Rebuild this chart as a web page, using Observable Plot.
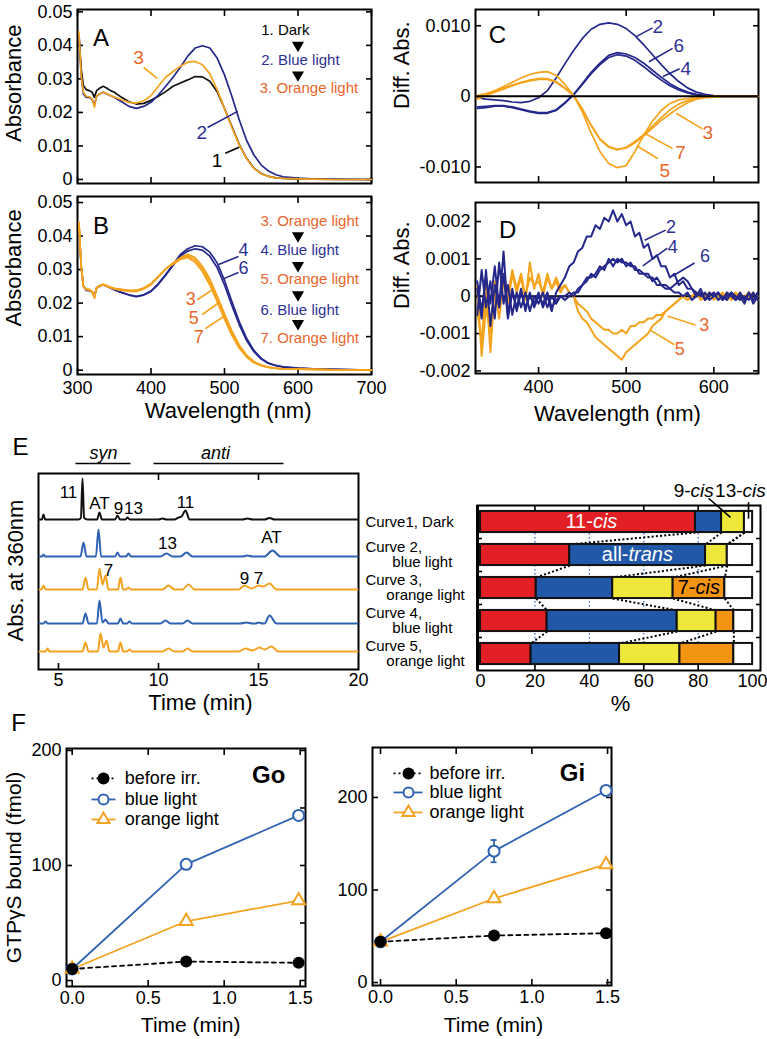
<!DOCTYPE html>
<html><head><meta charset="utf-8">
<script src="https://cdn.jsdelivr.net/npm/d3@7"></script>
<script src="https://cdn.jsdelivr.net/npm/@observablehq/plot@0.6"></script>
<style>
html,body{margin:0;padding:0;background:#fff;}
#fig{position:relative;width:767px;height:1039px;overflow:hidden;background:#fff;}
</style></head>
<body><div id="fig"></div>
<script>
// ================= DATA =================
// Panels A/B: absorbance spectra
const wavelengthsAB = [302,305,308,312,316,320,323,326,330,335,340,345,350,360,370,380,390,400,410,420,430,440,450,460,470,480,490,500,510,520,530,540,550,560,570,580,600,620,650,700];
const absDark = [0.043,0.033,0.028,0.0268,0.0265,0.026,0.0245,0.0265,0.0272,0.0278,0.0272,0.0265,0.026,0.0245,0.0232,0.0225,0.0227,0.0236,0.0248,0.0262,0.0278,0.0288,0.0297,0.0307,0.0306,0.0293,0.0262,0.0212,0.0158,0.0105,0.0063,0.0034,0.0018,0.0009,0.0005,0.0003,0.0001,0.0001,0,0];
const absBlue2 = [0.043,0.031,0.0255,0.0245,0.0245,0.0238,0.0222,0.0248,0.0255,0.026,0.0255,0.025,0.0245,0.0232,0.0218,0.0212,0.0218,0.023,0.0252,0.0278,0.0305,0.0335,0.0368,0.0392,0.0399,0.0392,0.0362,0.0312,0.0248,0.0178,0.0117,0.0073,0.0043,0.0025,0.0014,0.0008,0.0004,0.0002,0.0001,0];
const absOrange3 = [0.044,0.031,0.026,0.0248,0.0247,0.024,0.0215,0.025,0.0255,0.026,0.0256,0.025,0.0246,0.0238,0.023,0.0228,0.0235,0.025,0.0278,0.0305,0.0322,0.0338,0.035,0.0352,0.0342,0.0315,0.0268,0.0212,0.0155,0.0103,0.0062,0.0033,0.0017,0.0009,0.0005,0.0003,0.0002,0.0001,0,0];
const absB4 = [0.043,0.031,0.025,0.0238,0.0238,0.0232,0.0222,0.0245,0.025,0.0255,0.025,0.0245,0.024,0.0232,0.0225,0.022,0.0225,0.0236,0.0258,0.0285,0.0315,0.0345,0.0362,0.0371,0.0368,0.0352,0.032,0.0268,0.0205,0.0145,0.0095,0.0059,0.0035,0.0021,0.0014,0.001,0.0006,0.0004,0.0002,0];
const absB6 = [0.043,0.031,0.025,0.0238,0.0238,0.0232,0.0222,0.0245,0.025,0.0255,0.025,0.0245,0.024,0.0231,0.0224,0.0219,0.0224,0.0235,0.0256,0.0283,0.0312,0.034,0.0355,0.0362,0.0358,0.034,0.0306,0.0254,0.0193,0.0136,0.0089,0.0055,0.0033,0.002,0.0013,0.0009,0.0006,0.0004,0.0002,0];
const absB3 = [0.044,0.031,0.025,0.024,0.024,0.0233,0.0215,0.0245,0.025,0.0255,0.025,0.0246,0.0242,0.0238,0.0235,0.0235,0.0242,0.0255,0.0278,0.0302,0.032,0.0335,0.0346,0.0336,0.031,0.0272,0.0222,0.0168,0.0117,0.0075,0.0045,0.0026,0.0015,0.0009,0.0006,0.0004,0.0003,0.0002,0.0001,0];
const absB5 = [0.044,0.031,0.025,0.0241,0.024,0.0234,0.0216,0.0246,0.0251,0.0256,0.0251,0.0247,0.0243,0.024,0.0237,0.0237,0.0244,0.0257,0.0279,0.0302,0.0318,0.0333,0.0341,0.0329,0.0302,0.0263,0.0213,0.016,0.011,0.007,0.0042,0.0024,0.0014,0.0008,0.0005,0.0004,0.0003,0.0002,0.0001,0];
const absB7 = [0.044,0.031,0.025,0.0242,0.0241,0.0235,0.0217,0.0247,0.0252,0.0256,0.0252,0.0248,0.0244,0.0241,0.0238,0.0238,0.0245,0.0258,0.028,0.0302,0.0316,0.033,0.0336,0.0322,0.0294,0.0254,0.0204,0.0152,0.0104,0.0066,0.0039,0.0022,0.0013,0.0008,0.0005,0.0004,0.0003,0.0002,0.0001,0];
const legendA = ["1. Dark","2. Blue light","3. Orange light"];
const legendB = ["3. Orange light","4. Blue light","5. Orange light","6. Blue light","7. Orange light"];

// Panel C: difference spectra
const wavelengthsC = [330,340,350,360,370,380,390,400,410,420,430,440,450,460,470,480,490,500,510,520,530,540,550,560,570,580,590,600,610,620,630,640,650];
const diffC2 = [-0.0002,-0.0004,-0.0005,-0.0006,-0.0008,-0.0009,-0.0007,-0.0002,0.0008,0.0026,0.0046,0.0065,0.0082,0.0095,0.0102,0.0104,0.0102,0.0096,0.0086,0.0073,0.0059,0.0045,0.0032,0.0021,0.0012,0.0006,0.0003,0.0001,0,0,0,0,0];
const diffC4 = [-0.0017,-0.0016,-0.0014,-0.0014,-0.0016,-0.0019,-0.0022,-0.0024,-0.0024,-0.002,-0.001,0.0002,0.0017,0.0032,0.0045,0.0055,0.0059,0.0057,0.0051,0.0042,0.0032,0.0023,0.0015,0.0009,0.0005,0.0002,0.0001,0,0,0,0,0,0];
const diffC6 = [-0.0015,-0.0014,-0.0013,-0.0013,-0.0015,-0.0018,-0.0021,-0.0023,-0.0023,-0.0019,-0.0009,0.0003,0.0018,0.0034,0.0047,0.0058,0.0062,0.006,0.0055,0.0047,0.0037,0.0027,0.0018,0.0011,0.0006,0.0003,0.0001,0,0,0,0,0,0];
const diffC3 = [0.0001,0.0004,0.0008,0.0012,0.0016,0.002,0.0023,0.0025,0.0025,0.0021,0.0012,0.0001,-0.0018,-0.0041,-0.006,-0.0071,-0.0075,-0.0073,-0.0066,-0.0056,-0.0045,-0.0034,-0.0025,-0.0016,-0.0009,-0.0004,-0.0002,-0.0001,0,0,0,0,0];
const diffC5 = [-0.0004,0.0002,0.0008,0.0014,0.002,0.0026,0.0031,0.0034,0.0035,0.003,0.0017,0.0001,-0.0022,-0.0052,-0.0078,-0.0095,-0.0101,-0.0098,-0.0078,-0.0055,-0.0035,-0.002,-0.001,-0.0005,-0.0003,-0.0001,0,0,0,0,0,0,0];
const diffC7 = [-0.0003,0.0001,0.0006,0.001,0.0015,0.0019,0.0022,0.0024,0.0024,0.002,0.0011,0.0001,-0.0018,-0.0041,-0.0061,-0.0072,-0.0076,-0.0072,-0.0064,-0.0054,-0.0042,-0.003,-0.0019,-0.0011,-0.0006,-0.0003,-0.0001,0,0,0,0,0,0];

// Panel D: difference spectra (noisy), 330-650 nm every 5 nm
const wavelengthsD = [330,335,340,345,350,355,360,365,370,375,380,385,390,395,400,405,410,415,420,425,430,435,440,445,450,455,460,465,470,475,480,485,490,495,500,505,510,515,520,525,530,535,540,545,550,555,560,565,570,575,580,585,590,595,600,605,610,615,620,625,630,635,640,645,650];
const diffD2 = [0.0002,-0.0006,0.0007,-0.0008,0.0003,-0.0003,0.0012,-0.0005,0.0002,-0.0004, 0.0001,-0.0003,0,-0.0002,0.0001,-0.0003,0,-0.0004,0.0001,0.0003, 0.0005,0.0008,0.0009,0.0012,0.0013,0.0016,0.0016,0.0019,0.0018,0.0021, 0.0020,0.0023,0.0020,0.0022,0.0019,0.0020,0.0016,0.0017,0.0013,0.0014, 0.0010,0.0011,0.0008,0.0008,0.0005,0.0006,0.0003,0.0004,0.0002,0.0002, 0,0.0002,-0.0001,0.0001,0,0.0001,-0.0001,0.0001,0,-0.0001, 0.0001,-0.0001,0.0001,-0.0002,0];
const diffD4 = [-0.0005,0.0007,-0.0003,0.0004,-0.0006,0.0009,-0.0002,0.0003,-0.0005,0.0001, -0.0003,0.0001,-0.0004,0,-0.0002,0.0001,-0.0003,0,-0.0002,0, -0.0001,0,0.0001,0.0001,0.0003,0.0005,0.0005,0.0006,0.0008,0.0007, 0.0010,0.0008,0.0010,0.0009,0.0009,0.0008,0.0008,0.0006,0.0006,0.0005, 0.0005,0.0003,0.0003,0.0002,0.0002,0.0001,0.0001,0,0.0001,-0.0001, 0,0.0001,-0.0001,0,0.0001,-0.0001,0,-0.0001,0.0001,-0.0001, 0,-0.0002,0.0001,-0.0001,0.0001];
const diffD6 = [0.0004,-0.0004,0.0005,-0.0002,0.0008,-0.0003,0.0006,-0.0006,0.0001,-0.0003, 0.0002,-0.0004,0.0001,-0.0003,0,-0.0002,0.0001,-0.0003,-0.0001,0, 0,0.0001,0,0.0002,0.0003,0.0004,0.0006,0.0005,0.0007,0.0008, 0.0009,0.0010,0.0009,0.0010,0.0008,0.0009,0.0007,0.0007,0.0006,0.0006, 0.0004,0.0005,0.0003,0.0003,0.0002,0.0003,0.0004,0.0005,0.0004,0.0002, 0.0001,0,0.0001,-0.0001,0,0.0001,-0.0001,0,0.0001,0, -0.0001,0,-0.0001,0.0001,-0.0001];
const diffD3 = [-0.0004,-0.0012,0.0003,-0.0015,0.0002,-0.0006,0.0004,-0.0002,0.0006,0.0001, 0.0005,-0.0001,0.0009,0.0002,0.0006,0,0.0005,0.0002,0.0004,0.0001, 0.0003,0.0001,0,-0.0002,-0.0003,-0.0004,-0.0006,-0.0007,-0.0008,-0.0009, -0.0009,-0.0010,-0.0010,-0.0009,-0.0010,-0.0008,-0.0008,-0.0007,-0.0007,-0.0006, -0.0006,-0.0005,-0.0005,-0.0004,-0.0003,-0.0002,-0.0001,0,-0.0001,0, 0.0001,-0.0001,0,0.0001,-0.0001,0,0.0001,-0.0001,0,0.0001, -0.0001,0,0.0001,-0.0001,0];
const diffD5 = [0.0003,-0.0016,-0.0003,-0.0010,0.0004,-0.0003,0.0006,0,0.0007,0.0002, 0.0006,0,0.0005,0.0003,0.0004,0.0001,0.0006,0.0002,0.0005,0.0002, 0.0003,0.0001,0,-0.0004,-0.0006,-0.0007,-0.0009,-0.0011,-0.0012,-0.0013, -0.0014,-0.0015,-0.0016,-0.0017,-0.0015,-0.0014,-0.0013,-0.0012,-0.0011,-0.0010, -0.0008,-0.0007,-0.0006,-0.0004,-0.0003,-0.0002,-0.0001,0,-0.0001,0, 0.0001,0,-0.0001,0,0.0001,-0.0001,0,0.0001,-0.0001,0, 0.0001,-0.0001,0,0.0001,-0.0001];

// Panel E: HPLC chromatograms [time (min), absorbance above trace baseline]
const traceDark = [[4.05,0],[4.17,0],[4.25,5],[4.33,0],[6.0,0],[6.12,1.5],[6.2,41],[6.28,1.5],[6.45,0],[6.93,0],[7.05,7],[7.17,0],[7.83,0],[7.95,4],[8.07,0],[8.35,0],[8.45,2],[8.56,0],[10.0,0],[10.2,1],[10.4,0],[10.8,0],[11.0,2],[11.15,3],[11.35,9],[11.55,0],[14.2,0],[14.45,1],[14.7,0],[15.3,0],[15.55,1.5],[15.8,0],[19.95,0]];
const traceBlue2 = [[4.05,0],[4.17,0],[4.25,2],[4.33,0],[6.1,0],[6.25,14],[6.4,0],[6.87,0],[7.0,27],[7.13,0],[7.83,0],[7.95,4],[8.07,0],[8.38,0],[8.5,3],[8.62,0],[10.1,0],[10.4,3],[10.7,0],[11.1,0],[11.4,4],[11.7,0],[14.2,0],[14.45,1],[14.7,0],[15.3,0],[15.7,6],[16.1,0],[19.95,0]];
const traceOrange3 = [[4.05,0],[4.15,0],[4.25,4],[4.35,0],[6.2,0],[6.35,12],[6.5,0],[6.92,0],[7.05,21],[7.2,5],[7.35,14],[7.5,0],[7.97,0],[8.1,12],[8.23,0],[8.38,0],[8.5,2],[8.62,0],[10.2,0],[10.5,4],[10.8,0],[11.2,0],[11.5,5],[11.8,0],[14.0,0],[14.3,4],[14.65,1],[15.0,4],[15.25,3],[15.55,6],[15.9,0],[19.95,0]];
const traceBlue4 = [[4.05,0],[4.25,0],[4.35,2],[4.45,0],[6.2,0],[6.35,10],[6.5,0],[6.92,0],[7.05,23],[7.2,1],[7.35,4],[7.5,0],[7.97,0],[8.1,5],[8.23,0],[8.43,0],[8.55,2],[8.67,0],[10.1,0],[10.35,3],[10.6,0],[11.2,0],[11.45,3],[11.7,0],[14.1,0],[14.4,1],[14.7,0],[14.85,0],[15.0,1],[15.2,0],[15.3,0],[15.55,8],[15.9,0],[19.95,0]];
const traceOrange5 = [[4.05,0],[4.35,0],[4.45,3],[4.55,0],[6.2,0],[6.35,9],[6.5,0],[6.97,0],[7.1,18],[7.25,4],[7.4,11],[7.55,0],[7.97,0],[8.1,9],[8.23,0],[8.43,0],[8.55,2],[8.67,0],[10.2,0],[10.5,3],[10.8,0],[11.2,0],[11.45,3],[11.7,0],[14.0,0],[14.35,3],[14.7,1],[15.05,4],[15.3,2],[15.65,5],[16.0,0],[19.95,0]];
const curveNames = ["Curve1, Dark","Curve 2,","Curve 3,","Curve 4,","Curve 5,"];
const curveNames2 = ["","blue light","orange light","blue light","orange light"];
// Panel E right: isomer composition (%)
const isomerNames = ["11-cis","all-trans","9-cis","7-cis","13-cis"];
const pct11cis   = [79.0, 32.8, 20.5, 24.5, 18.6];
const pctAllTrans= [9.6, 49.9, 28.1, 47.8, 32.5];
const pct9cis    = [8.4, 8.0, 22.2, 14.3, 22.2];
const pct7cis    = [0, 0, 19.0, 6.5, 19.8];
const pct13cis   = [3.0, 9.3, 10.2, 6.9, 6.9];

// Panel F: GTPgammaS binding
const fTimes = [0, 0.75, 1.49];
const goBefore = [10, 16.5, 15.4];
const goBlue = [10, 101, 143.5];
const goOrange = [10, 51.5, 69.5];
const goBlueErr = [0, 1.5, 3];
const giBefore = [44, 50.8, 53.3];
const giBlue = [44, 142, 207.6];
const giOrange = [44, 90.8, 127.6];
const giBlueErr = [0, 12, 4];
const legendF = ["before irr.","blue light","orange light"];

// ================= HELPERS =================
const FONT = "'Liberation Sans', Arial, Helvetica, sans-serif";
const NAVY = "#25288b", AMBER = "#f5a31c", TXT_ORANGE = "#e8652c", TXT_NAVY = "#2e3195";
const C_BLUE = "#2f62b2", C_ORANGE = "#f4a222";
const fig = document.getElementById("fig");
function place(svg, left, top) {
  svg.style.position = "absolute"; svg.style.left = left + "px"; svg.style.top = top + "px";
  fig.appendChild(svg);
}
const styleOf = fs => ({background: "transparent", overflow: "visible", fontFamily: FONT, fontSize: fs + "px", color: "#000"});
const ann = (t, x, y, o = {}) => Plot.text([{t, x, y}], {x: "x", y: "y", text: "t", ...o});
const seg = (x1, y1, x2, y2, o = {}) => Plot.link([{x1, y1, x2, y2}], {x1: "x1", y1: "y1", x2: "x2", y2: "y2", ...o});
const pairs = (xs, ys) => xs.map((x, i) => ({x, y: ys[i]}));
const line = (xs, ys, stroke, o = {}) => Plot.line(pairs(xs, ys), {x: "x", y: "y", stroke, strokeWidth: 1.7, ...o});

function box({xt = [], xtTop = xt, yt = [], ytRight = yt, xl, yl, xfmt, yfmt, tick = 6, xpad = 8, ypad = 5, sw = 2}) {
  const m = [];
  const tk = {fill: "none", strokeWidth: 1.6, label: null};
  if (xt.length) m.push(Plot.axisX({ticks: xt, anchor: "bottom", tickSize: -tick, ...tk}));
  if (xtTop.length) m.push(Plot.axisX({ticks: xtTop, anchor: "top", tickSize: -tick, ...tk}));
  if (yt.length) m.push(Plot.axisY({ticks: yt, anchor: "left", tickSize: -tick, ...tk}));
  if (ytRight.length) m.push(Plot.axisY({ticks: ytRight, anchor: "right", tickSize: -tick, ...tk}));
  if (xl) m.push(Plot.axisX({ticks: xl, anchor: "bottom", tickSize: 0, tickPadding: xpad, tickFormat: xfmt, label: null}));
  if (yl) m.push(Plot.axisY({ticks: yl, anchor: "left", tickSize: 0, tickPadding: ypad, tickFormat: yfmt, label: null}));
  m.push(Plot.frame({strokeWidth: sw}));
  return m;
}
const fmtAbs = d => d === 0 ? "0" : d.toFixed(2);
const fmtDiff = d => d === 0 ? "0" : d.toFixed(3);
const wlTicks = [300, 400, 500, 600, 700];
const absTicks = [0, 0.01, 0.02, 0.03, 0.04, 0.05];
const tri = (pts) => Plot.dot(pts, {x: "x", y: "y", symbol: "triangle", rotate: 180, fill: "#000", r: 4.5});

// ================= PANEL A =================
place(Plot.plot({
  width: 390, height: 190, marginLeft: 77, marginRight: 19, marginTop: 9, marginBottom: 7,
  x: {domain: [300, 700], axis: null}, y: {domain: [-0.0012, 0.0507], axis: null},
  style: styleOf(18),
  marks: [
    ...box({xt: wlTicks, yt: absTicks, yl: absTicks, yfmt: fmtAbs}),
    line(wavelengthsAB, absDark, "#111"),
    line(wavelengthsAB, absBlue2, NAVY),
    line(wavelengthsAB, absOrange3, AMBER),
    ann("A", 332, 0.0421, {fontSize: 24}),
    ann("Absorbance", 213, 0.0287, {rotate: -90, fontSize: 22}),
    ann(legendA[0], 550, 0.0445, {textAnchor: "start", fontSize: 15, fill: "#000"}),
    ann(legendA[1], 550, 0.0355, {textAnchor: "start", fontSize: 15, fill: TXT_NAVY}),
    ann(legendA[2], 548, 0.0272, {textAnchor: "start", fontSize: 15, fill: TXT_ORANGE}),
    tri([{x: 600, y: 0.0400}, {x: 600, y: 0.0312}]),
    ann("3", 383, 0.0364, {fontSize: 19, fill: TXT_ORANGE}),
    seg(390, 0.0334, 409, 0.0301, {stroke: AMBER, strokeWidth: 1.6}),
    ann("2", 469, 0.0140, {fontSize: 19, fill: TXT_NAVY}),
    seg(477, 0.0155, 518, 0.0203, {stroke: NAVY, strokeWidth: 1.6}),
    ann("1", 490, 0.0054, {fontSize: 19, fill: "#000"}),
    seg(501, 0.0078, 520, 0.0096, {stroke: "#000", strokeWidth: 1.6})
  ]
}), 0, 0);

// ================= PANEL B =================
const legYB = [0.0443, 0.0357, 0.0270, 0.0180, 0.0094];
place(Plot.plot({
  width: 390, height: 235, marginLeft: 77, marginRight: 19, marginTop: 9, marginBottom: 48,
  x: {domain: [300, 700], axis: null}, y: {domain: [-0.0013, 0.0518], axis: null},
  style: styleOf(18),
  marks: [
    ...box({xt: wlTicks, yt: absTicks, yl: absTicks, yfmt: fmtAbs, xl: wlTicks, xpad: 7}),
    line(wavelengthsAB, absB4, NAVY),
    line(wavelengthsAB, absB6, NAVY),
    line(wavelengthsAB, absB3, AMBER),
    line(wavelengthsAB, absB5, AMBER),
    line(wavelengthsAB, absB7, AMBER),
    ann("B", 332, 0.0428, {fontSize: 24}),
    ann("Absorbance", 213, 0.0305, {rotate: -90, fontSize: 22}),
    ann("Wavelength (nm)", 505, -0.0122, {fontSize: 22}),
    ...legendB.map((t, i) => ann(t, 549, legYB[i], {textAnchor: "start", fontSize: 15, fill: i % 2 ? TXT_NAVY : TXT_ORANGE})),
    tri([{x: 600, y: 0.0401}, {x: 600, y: 0.0312}, {x: 600, y: 0.0225}, {x: 600, y: 0.0139}]),
    ann("4", 526, 0.0359, {fontSize: 18, fill: TXT_NAVY}),
    seg(519, 0.0339, 492, 0.0315, {stroke: NAVY, strokeWidth: 1.6}),
    ann("6", 526, 0.0304, {fontSize: 18, fill: TXT_NAVY}),
    seg(519, 0.0291, 499, 0.0273, {stroke: NAVY, strokeWidth: 1.6}),
    ann("3", 454, 0.0212, {fontSize: 18, fill: TXT_ORANGE}),
    seg(463, 0.0210, 484, 0.0240, {stroke: AMBER, strokeWidth: 1.6}),
    ann("5", 458, 0.0155, {fontSize: 18, fill: TXT_ORANGE}),
    seg(470, 0.0166, 492, 0.0201, {stroke: AMBER, strokeWidth: 1.6}),
    ann("7", 465, 0.0097, {fontSize: 18, fill: TXT_ORANGE}),
    seg(474, 0.0124, 499, 0.0160, {stroke: AMBER, strokeWidth: 1.6})
  ]
}), 0, 187);

// ================= PANEL C =================
const diffTicksC = [-0.01, 0, 0.01];
place(Plot.plot({
  width: 377, height: 190, marginLeft: 85, marginRight: 9, marginTop: 9, marginBottom: 8,
  x: {domain: [328, 651], axis: null}, y: {domain: [-0.0122, 0.0123], axis: null},
  style: styleOf(18),
  marks: [
    ...box({xt: [400, 500, 600], yt: diffTicksC, yl: diffTicksC, yfmt: fmtDiff}),
    line(wavelengthsC, diffC2, NAVY),
    line(wavelengthsC, diffC4, NAVY),
    line(wavelengthsC, diffC6, NAVY),
    line(wavelengthsC, diffC3, AMBER),
    line(wavelengthsC, diffC7, AMBER),
    line(wavelengthsC, diffC5, AMBER),
    Plot.ruleY([0], {stroke: "#000", strokeWidth: 2}),
    ann("C", 353, 0.0086, {fontSize: 24}),
    ann("Diff. Abs.", 244.6, 0.0044, {rotate: -90, fontSize: 22}),
    ann("2", 536, 0.0099, {fontSize: 19, fill: TXT_NAVY}),
    seg(530, 0.0097, 512, 0.0085, {stroke: NAVY, strokeWidth: 1.6}),
    ann("6", 560, 0.0072, {fontSize: 19, fill: TXT_NAVY}),
    seg(553, 0.0068, 526, 0.0049, {stroke: NAVY, strokeWidth: 1.6}),
    ann("4", 568, 0.0039, {fontSize: 19, fill: TXT_NAVY}),
    seg(561, 0.0039, 542, 0.0028, {stroke: NAVY, strokeWidth: 1.6}),
    ann("3", 593, -0.0052, {fontSize: 19, fill: TXT_ORANGE}),
    seg(587, -0.0046, 557, -0.0024, {stroke: AMBER, strokeWidth: 1.6}),
    ann("7", 562, -0.0080, {fontSize: 19, fill: TXT_ORANGE}),
    seg(553, -0.0074, 522, -0.0053, {stroke: AMBER, strokeWidth: 1.6}),
    ann("5", 544, -0.0105, {fontSize: 19, fill: TXT_ORANGE}),
    seg(536, -0.0088, 512, -0.0070, {stroke: AMBER, strokeWidth: 1.6})
  ]
}), 390, 0);

// ================= PANEL D =================
const diffTicksD = [-0.002, -0.001, 0, 0.001, 0.002];
place(Plot.plot({
  width: 377, height: 232, marginLeft: 85, marginRight: 9, marginTop: 12, marginBottom: 49,
  x: {domain: [328, 651], axis: null}, y: {domain: [-0.00207, 0.00251], axis: null},
  style: styleOf(18),
  marks: [
    ...box({xt: [400, 500, 600], yt: diffTicksD, yl: diffTicksD, yfmt: fmtDiff, xl: [400, 500, 600], xpad: 7}),
    Plot.ruleY([0], {stroke: "#000", strokeWidth: 2}),
    line(wavelengthsD, diffD3, AMBER, {strokeWidth: 2}),
    line(wavelengthsD, diffD5, AMBER, {strokeWidth: 2}),
    line(wavelengthsD, diffD2, NAVY, {strokeWidth: 2}),
    line(wavelengthsD, diffD4, NAVY, {strokeWidth: 2}),
    line(wavelengthsD, diffD6, NAVY, {strokeWidth: 2}),
    ann("D", 364.6, 0.00177, {fontSize: 24}),
    ann("Diff. Abs.", 244.6, 0.00083, {rotate: -90, fontSize: 22}),
    ann("Wavelength (nm)", 490, -0.00316, {fontSize: 22}),
    ann("2", 551, 0.00186, {fontSize: 18, fill: TXT_NAVY}),
    seg(545, 0.00177, 521, 0.0015, {stroke: NAVY, strokeWidth: 1.6}),
    ann("4", 553, 0.00130, {fontSize: 18, fill: TXT_NAVY}),
    seg(547, 0.00129, 519, 0.00081, {stroke: NAVY, strokeWidth: 1.6}),
    ann("6", 590, 0.00107, {fontSize: 18, fill: TXT_NAVY}),
    seg(578, 0.00089, 553, 0.00054, {stroke: NAVY, strokeWidth: 1.6}),
    ann("3", 589, -0.00079, {fontSize: 18, fill: TXT_ORANGE}),
    seg(579, -0.00077, 547, -0.00053, {stroke: AMBER, strokeWidth: 1.6}),
    ann("5", 561, -0.00143, {fontSize: 18, fill: TXT_ORANGE}),
    seg(555, -0.0013, 527, -0.0009, {stroke: AMBER, strokeWidth: 1.6})
  ]
}), 390, 190);

// ================= PANEL E (chromatograms) =================
const traces = [traceDark, traceBlue2, traceOrange3, traceBlue4, traceOrange5];
const traceColors = ["#111", C_BLUE, C_ORANGE, C_BLUE, C_ORANGE];
const traceOffsets = [150, 113, 80, 46, 18];
place(Plot.plot({
  width: 370, height: 290, marginLeft: 38, marginRight: 12, marginTop: 48, marginBottom: 46,
  x: {domain: [4, 20], axis: null}, y: {domain: [0, 196], axis: null},
  style: styleOf(18),
  marks: [
    ...box({xt: [5, 10, 15], xtTop: [10, 15], xl: [5, 10, 15, 20], xpad: 4}),
    ...traces.map((tr, i) => Plot.line(tr.map(([t, a]) => ({t, a: a + traceOffsets[i]})),
      {x: "t", y: "a", stroke: traceColors[i], strokeWidth: 2, curve: "monotone-x"})),
    ann("E", 3.1, 222, {fontSize: 24}),
    ann("syn", 7.25, 216, {fontSize: 18, fontStyle: "italic"}),
    seg(5.85, 206, 8.6, 206, {stroke: "#000", strokeWidth: 1.6}),
    ann("anti", 12.85, 216, {fontSize: 18, fontStyle: "italic"}),
    seg(9.75, 206, 16.25, 206, {stroke: "#000", strokeWidth: 1.6}),
    ann("Abs. at 360nm", 2.85, 99, {rotate: -90, fontSize: 22}),
    ann("Time (min)", 12.1, -33, {fontSize: 22}),
    ann("11", 5.5, 177, {fontSize: 17}),
    ann("AT", 7.05, 166, {fontSize: 17}),
    ann("9", 8.0, 161, {fontSize: 17}),
    ann("13", 8.75, 161, {fontSize: 17}),
    ann("11", 11.35, 167, {fontSize: 17}),
    ann("13", 10.45, 126, {fontSize: 17}),
    ann("AT", 15.65, 132, {fontSize: 17}),
    ann("7", 7.5, 99, {fontSize: 17}),
    ann("9", 14.3, 91, {fontSize: 17}),
    ann("7", 15.0, 91, {fontSize: 17})
  ]
}), 0, 425);

// ================= PANEL E (isomer bars) =================
const pctTable = [pct11cis, pctAllTrans, pct9cis, pct7cis, pct13cis];
const isoColors = ["#e31f26", "#2158a8", "#efe83b", "#f39512", "#ffffff"];
const rows = [0, 1, 2, 3, 4];
const segs = [];
const cum = rows.map(r => {
  let acc = 0;
  return pctTable.map((arr, k) => {
    const x1 = acc; acc += arr[r];
    if (arr[r] > 0) segs.push({row: r, iso: isomerNames[k], x1, x2: acc, color: isoColors[k]});
    return acc;
  });
});
const HB = 0.32;
const connectors = [];
for (let r = 0; r < 4; r++) for (let k = 0; k < 4; k++)
  connectors.push({x1: cum[r][k], y1: r + HB, x2: cum[r + 1][k], y2: r + 1 - HB});
place(Plot.plot({
  width: 407, height: 290, marginLeft: 117, marginRight: 7, marginTop: 80, marginBottom: 45,
  x: {domain: [-1.1, 102.9], axis: null}, y: {domain: [4.5, -0.5], axis: null},
  color: {type: "identity"},
  style: styleOf(18),
  marks: [
    Plot.ruleX([20, 40, 60, 80], {stroke: "#3b5cc4", strokeWidth: 1.2, strokeDasharray: "1.5,2.5"}),
    Plot.link(connectors, {x1: "x1", y1: "y1", x2: "x2", y2: "y2", stroke: "#000", strokeWidth: 2, strokeDasharray: "2,2.2"}),
    Plot.rect(segs, {x1: "x1", x2: "x2", y1: d => d.row - HB, y2: d => d.row + HB, fill: "color", stroke: "#111", strokeWidth: 2}),
    ...box({xt: [20, 40, 60, 80], yt: [0.5, 1.5, 2.5, 3.5], xl: [0, 20, 40, 60, 80, 100], xpad: 4, tick: 5}),
    Plot.ruleX([-1.1], {stroke: "#000", strokeWidth: 3}),
    ann("%", 51.5, 5.5, {fontSize: 22}),
    ...curveNames.map((t, r) => ann(t, -42.3, r === 0 ? 0 : r - 0.23, {textAnchor: "start", fontSize: 15})),
    ...curveNames2.map((t, r) => ann(t, r % 2 ? -32.4 : -34.6, r + 0.22, {textAnchor: "start", fontSize: 15})),
    ann("11-", 41.3, 0, {textAnchor: "end", fill: "#fff", fontSize: 20}),
    ann("cis", 41.3, 0, {textAnchor: "start", fill: "#fff", fontSize: 20, fontStyle: "italic"}),
    ann("all-", 54.4, 1, {textAnchor: "end", fill: "#fff", fontSize: 20}),
    ann("trans", 54.4, 1, {textAnchor: "start", fill: "#fff", fontSize: 20, fontStyle: "italic"}),
    ann("7-", 79, 2, {textAnchor: "end", fill: "#000", fontSize: 20}),
    ann("cis", 79, 2, {textAnchor: "start", fill: "#000", fontSize: 20, fontStyle: "italic"}),
    ann("9-", 77.2, -0.95, {textAnchor: "end", fontSize: 19}),
    ann("cis", 77.2, -0.95, {textAnchor: "start", fontSize: 19, fontStyle: "italic"}),
    ann("13-", 96.3, -0.95, {textAnchor: "end", fontSize: 19}),
    ann("cis", 96.3, -0.95, {textAnchor: "start", fontSize: 19, fontStyle: "italic"}),
    seg(83.8, -0.72, 91.9, -0.14, {stroke: "#000", strokeWidth: 1.6}),
    seg(98.5, -0.6, 98.5, -0.1, {stroke: "#000", strokeWidth: 1.6})
  ]
}), 360, 425);

// ================= PANEL F =================
function gtpPanel({before, blue, orange, err, width, marginLeft, marginRight, marginTop, marginBottom, xDomain, yDomain, yRight, legX, legY, gLabel, gX, extra}) {
  const bl = pairs(fTimes, blue), or = pairs(fTimes, orange), bf = pairs(fTimes, before);
  const eb = fTimes.map((t, i) => ({x: t, lo: blue[i] - err[i], hi: blue[i] + err[i]})).filter((d, i) => err[i] > 0);
  return Plot.plot({
    width, height: 334, marginLeft, marginRight, marginTop, marginBottom,
    x: {domain: xDomain, axis: null}, y: {domain: yDomain, axis: null},
    style: styleOf(18),
    marks: [
      ...box({xt: [0, 0.5, 1, 1.5], yt: [0, 100, 200], ytRight: yRight, xl: [0, 0.5, 1, 1.5], xfmt: d => d.toFixed(1), yl: [0, 100, 200], xpad: 5}),
      Plot.line(bl, {x: "x", y: "y", stroke: C_BLUE, strokeWidth: 1.8}),
      Plot.line(or, {x: "x", y: "y", stroke: C_ORANGE, strokeWidth: 1.8}),
      Plot.line(bf, {x: "x", y: "y", stroke: "#000", strokeWidth: 1.8, strokeDasharray: "4,4"}),
      Plot.ruleX(eb, {x: "x", y1: "lo", y2: "hi", stroke: C_BLUE, strokeWidth: 1.8}),
      Plot.ruleY(eb, {y: "lo", x1: d => d.x - 0.02, x2: d => d.x + 0.02, stroke: C_BLUE, strokeWidth: 1.8}),
      Plot.ruleY(eb, {y: "hi", x1: d => d.x - 0.02, x2: d => d.x + 0.02, stroke: C_BLUE, strokeWidth: 1.8}),
      Plot.dot(bl, {x: "x", y: "y", r: 5.5, stroke: C_BLUE, strokeWidth: 2, fill: "#fff"}),
      Plot.dot(or, {x: "x", y: "y", r: 4.8, symbol: "triangle", stroke: C_ORANGE, strokeWidth: 2, fill: "#fff"}),
      Plot.dot(bf, {x: "x", y: "y", r: 6, fill: "#000"}),
      // legend
      seg(legX[0], legY[0], legX[2], legY[0], {stroke: "#000", strokeWidth: 1.8, strokeDasharray: "2,3"}),
      Plot.dot([{x: legX[1], y: legY[0]}], {x: "x", y: "y", r: 6, fill: "#000"}),
      seg(legX[0], legY[1], legX[2], legY[1], {stroke: C_BLUE, strokeWidth: 1.8}),
      Plot.dot([{x: legX[1], y: legY[1]}], {x: "x", y: "y", r: 5, stroke: C_BLUE, strokeWidth: 2, fill: "#fff"}),
      seg(legX[0], legY[2], legX[2], legY[2], {stroke: C_ORANGE, strokeWidth: 1.8}),
      Plot.dot([{x: legX[1], y: legY[2]}], {x: "x", y: "y", r: 4.5, symbol: "triangle", stroke: C_ORANGE, strokeWidth: 2, fill: "#fff"}),
      ...legendF.map((t, i) => ann(t, legX[3], legY[i], {textAnchor: "start", fontSize: 18})),
      ann(gLabel, gX[0], gX[1], {fontSize: 24, fontWeight: "bold"}),
      ...extra
    ]
  });
}
place(gtpPanel({
  before: goBefore, blue: goBlue, orange: goOrange, err: goBlueErr,
  width: 330, marginLeft: 66, marginRight: 25, marginTop: 43, marginBottom: 53,
  xDomain: [-0.0375, 1.535], yDomain: [-5.2, 201.7], yRight: [0, 50, 100, 150, 200],
  legX: [0.127, 0.206, 0.285, 0.345], legY: [175.7, 157.4, 140], gLabel: "Go", gX: [1.293, 178.3],
  extra: [
    ann("F", -0.353, 223.5, {fontSize: 24}),
    ann("GTPγS bound (fmol)", -0.383, 98.3, {rotate: -90, fontSize: 21}),
    ann("Time (min)", 0.779, -39, {fontSize: 21})
  ]
}), 0, 705);
place(gtpPanel({
  before: giBefore, blue: giBlue, orange: giOrange, err: giBlueErr,
  width: 437, marginLeft: 42, marginRight: 156, marginTop: 42, marginBottom: 54,
  xDomain: [-0.053, 1.526], yDomain: [-3.2, 254], yRight: [0, 100, 200],
  legX: [0.086, 0.185, 0.277, 0.324], legY: [226, 205.4, 183.8], gLabel: "Gi", gX: [1.268, 226],
  extra: [
    ann("Time (min)", 0.746, -46.5, {fontSize: 21})
  ]
}), 330, 705);
</script>
</body></html>
